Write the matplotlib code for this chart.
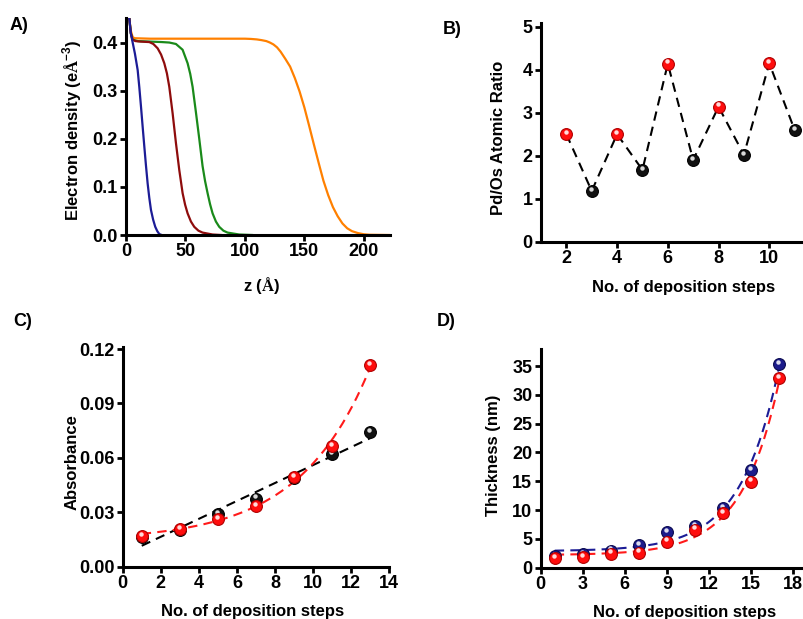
"""
Four-panel figure: electron density profiles, Pd/Os ratio,
absorbance and thickness against the number of deposition steps.
"""

import matplotlib
matplotlib.use("Agg")
import matplotlib.pyplot as plt
import matplotlib.transforms as mtransforms
import numpy as np

# %%
# Data
# ---------------------------

# A) electron density profiles, z in Angstrom
blue_z = [2.8, 4.0, 5.6, 7.5, 9.8, 11.2, 12.6, 14.0, 15.4, 16.8, 18.2, 19.6, 21.0, 22.8, 24.6, 26.3, 28.0, 30.0]
blue_rho = [0.450, 0.420, 0.400, 0.377, 0.343, 0.307, 0.267, 0.225, 0.184, 0.144, 0.107, 0.077, 0.052, 0.032,
            0.017, 0.008, 0.002, 0.000]

red_z = [2.8, 4.0, 5.5, 8.0, 12.0, 19.6, 23.0, 26.6, 29.5, 32.2, 34.4, 36.4, 39.2, 42.0, 44.8, 47.6, 49.7,
         51.8, 54.6, 57.4, 60.9, 64.4, 72.8, 79.8]
red_rho = [0.450, 0.420, 0.406, 0.403, 0.402, 0.401, 0.397, 0.388, 0.375, 0.357, 0.336, 0.308, 0.253, 0.191,
           0.135, 0.087, 0.063, 0.045, 0.028, 0.017, 0.009, 0.005, 0.001, 0.000]

green_z = [2.8, 4.0, 5.5, 10.0, 20.0, 30.0, 36.4, 42.0, 47.6, 51.8, 54.0, 56.0, 58.8, 61.6, 64.4, 66.5, 68.6,
           70.7, 72.8, 75.6, 78.4, 81.9, 85.4, 95.2, 106.0]
green_rho = [0.450, 0.420, 0.406, 0.403, 0.402, 0.401, 0.400, 0.397, 0.385, 0.357, 0.335, 0.308, 0.255, 0.200,
             0.143, 0.112, 0.087, 0.064, 0.045, 0.028, 0.017, 0.009, 0.005, 0.001, 0.000]

orange_z = [2.8, 4.0, 5.5, 7.0, 20.0, 60.0, 100.0, 105.0, 110.0, 114.0, 118.0, 121.0, 124.0, 127.0, 130.0,
            134.0, 138.0, 142.0, 146.0, 150.0, 154.0, 158.0, 162.0, 166.0, 170.0, 174.0, 178.0, 182.0, 186.0,
            190.0, 195.0, 200.0, 205.0, 221.0]
orange_rho = [0.450, 0.425, 0.412, 0.409, 0.408, 0.408, 0.408, 0.4075, 0.4065, 0.405, 0.403, 0.400, 0.396,
              0.390, 0.381, 0.366, 0.350, 0.326, 0.298, 0.265, 0.227, 0.188, 0.150, 0.113, 0.083, 0.058, 0.039,
              0.024, 0.014, 0.008, 0.004, 0.0015, 0.0005, 0.000]

# B) Pd/Os atomic ratio
ratio_steps = [2, 3, 4, 5, 6, 7, 8, 9, 10, 11]
ratio_values = [2.50, 1.18, 2.50, 1.67, 4.14, 1.90, 3.14, 2.02, 4.15, 2.60]

# C) absorbance
abs_steps = [1, 3, 5, 7, 9, 11, 13]
abs_black = [0.0165, 0.0203, 0.0289, 0.0375, 0.0490, 0.0620, 0.0743]
abs_red = [0.0169, 0.0208, 0.0263, 0.0335, 0.0496, 0.0667, 0.1110]

# D) thickness (nm)
thk_steps = [1, 3, 5, 7, 9, 11, 13, 15, 17]
thk_blue = [2.03, 2.38, 2.95, 3.94, 6.14, 7.24, 10.3, 16.95, 35.35]
thk_red = [1.62, 1.85, 2.43, 2.60, 4.51, 6.60, 9.44, 14.93, 32.86]

# %%
# Style
# -----

plt.rcParams["font.family"] = ["Liberation Sans", "DejaVu Sans"]
plt.rcParams["font.weight"] = "bold"
# serif for the Angstrom sign, bold sans for the exponent
plt.rcParams["mathtext.fontset"] = "custom"
plt.rcParams["mathtext.rm"] = "Liberation Serif:bold"
plt.rcParams["mathtext.bf"] = "Liberation Sans:bold"
plt.rcParams["mathtext.sf"] = "Liberation Sans:bold"

TICK_FS = 13
LABEL_FS = 12
DASH = (0, (4.5, 3))


def style_axes(ax):
    for side in ("top", "right"):
        ax.spines[side].set_visible(False)
    for side in ("left", "bottom"):
        ax.spines[side].set_linewidth(2.2)
    ax.tick_params(direction="out", length=4.5, width=2, labelsize=TICK_FS, pad=1.5)
    for lab in ax.get_xticklabels() + ax.get_yticklabels():
        lab.set_fontweight("bold")


def balls(ax, x, y, color, edge, zorder=3):
    """Markers that look a little like shaded spheres."""
    ax.plot(x, y, "o", ms=8.5, mfc=color, mec=edge, mew=0.8, zorder=zorder, clip_on=False)
    hl = mtransforms.offset_copy(ax.transData, fig=ax.figure, x=-0.6, y=1.6, units="points")
    ax.plot(x, y, "o", ms=3.2, mfc="white", mec="none", alpha=0.85, transform=hl,
            zorder=zorder + 0.1, clip_on=False)


def exp_fit(x, y, xs):
    """Least squares fit of y = c + a*exp(k*x), k by grid search."""
    x = np.asarray(x, float)
    y = np.asarray(y, float)
    best = None
    for k in np.linspace(0.01, 1.0, 991):
        m = np.column_stack([np.ones_like(x), np.exp(k * x)])
        coef = np.linalg.lstsq(m, y, rcond=None)[0]
        err = np.sum((m @ coef - y) ** 2)
        if best is None or err < best[0]:
            best = (err, k, coef)
    _, k, (c, a) = best
    return c + a * np.exp(k * xs)


fig = plt.figure(figsize=(8.04, 6.19), dpi=100)
W, H = 804.0, 619.0


def add_axes(left, top, right, bottom):
    """Axes box from pixel coordinates of the reference."""
    return fig.add_axes([left / W, 1 - bottom / H, (right - left) / W, (bottom - top) / H])


def place_labels(ax, box, ylab_x, ylab_frac, xlab_x, xlab_top):
    """Put the axis labels at pixel positions (label right edge / label top)."""
    left, top, right, bottom = box
    ax.yaxis.set_label_coords((ylab_x - left) / (right - left), ylab_frac)
    ax.xaxis.set_label_coords((xlab_x - left) / (right - left), -(xlab_top - bottom) / (bottom - top))


def panel_letter(text, x, y):
    fig.text(x / W, 1 - y / H, text, fontsize=13, fontweight="bold", ha="center", va="center")


# %%
# A) Electron density
# -------------------

box_a = (126, 18, 390, 235)
ax_a = add_axes(*box_a)
ax_a.plot(orange_z, orange_rho, color="#ff8000", lw=1.6)
ax_a.plot(green_z, green_rho, color="#1a8a1a", lw=1.6)
ax_a.plot(red_z, red_rho, color="#8e0c0c", lw=1.6)
ax_a.plot(blue_z, blue_rho, color="#1c1c96", lw=1.6)
ax_a.set_xlim(0, 222)
ax_a.set_ylim(0, 0.451)
ax_a.set_xticks([0, 50, 100, 150, 200])
ax_a.set_yticks([0.0, 0.1, 0.2, 0.3, 0.4])
ax_a.set_yticklabels(["0.0", "0.1", "0.2", "0.3", "0.4"])
style_axes(ax_a)
ax_a.set_ylabel(r"Electron density (e$\mathrm{Å}^{\mathbf{-3}}$)", fontsize=LABEL_FS, fontweight="bold")
ax_a.set_xlabel(r"z ($\mathrm{Å}$)", fontsize=LABEL_FS, fontweight="bold")
place_labels(ax_a, box_a, 84, 0.484, 262, 275)
panel_letter("A)", 19, 25)

# %%
# B) Pd/Os atomic ratio
# ---------------------

box_b = (541, 23.3, 804, 241.7)
ax_b = add_axes(*box_b)
ax_b.plot(ratio_steps, ratio_values, color="black", lw=1.5, ls=DASH, zorder=2)
even = [i for i, s in enumerate(ratio_steps) if s % 2 == 0]
odd = [i for i, s in enumerate(ratio_steps) if s % 2 == 1]
balls(ax_b, [ratio_steps[i] for i in even], [ratio_values[i] for i in even], "#ff0d0d", "#b00000")
balls(ax_b, [ratio_steps[i] for i in odd], [ratio_values[i] for i in odd], "#111111", "#000000")
ax_b.set_xlim(1, 11.37)
ax_b.set_ylim(0, 5.08)
ax_b.set_xticks([2, 4, 6, 8, 10])
ax_b.set_yticks([0, 1, 2, 3, 4, 5])
style_axes(ax_b)
ax_b.set_ylabel("Pd/Os Atomic Ratio", fontsize=LABEL_FS, fontweight="bold")
ax_b.set_xlabel("No. of deposition steps", fontsize=LABEL_FS, fontweight="bold")
place_labels(ax_b, box_b, 506, 0.477, 684, 280)
panel_letter("B)", 452, 30)

# %%
# C) Absorbance
# -------------

box_c = (122.7, 346.7, 389.3, 566.7)
ax_c = add_axes(*box_c)
xs_c = np.linspace(abs_steps[0], abs_steps[-1], 200)
lin = np.polyfit(abs_steps, abs_black, 1)
ax_c.plot(xs_c, np.polyval(lin, xs_c), color="black", lw=1.5, ls=DASH, zorder=2)
ax_c.plot(xs_c, exp_fit(abs_steps, abs_red, xs_c), color="#ff1a1a", lw=1.5, ls=DASH, zorder=2)
balls(ax_c, abs_steps, abs_black, "#111111", "#000000", zorder=3)
balls(ax_c, abs_steps, abs_red, "#ff0d0d", "#b00000", zorder=4)
ax_c.set_xlim(0, 14)
ax_c.set_ylim(0, 0.1213)
ax_c.set_xticks(range(0, 15, 2))
ax_c.set_yticks([0.0, 0.03, 0.06, 0.09, 0.12])
ax_c.set_yticklabels(["0.00", "0.03", "0.06", "0.09", "0.12"])
style_axes(ax_c)
ax_c.set_ylabel("Absorbance", fontsize=LABEL_FS, fontweight="bold")
ax_c.set_xlabel("No. of deposition steps", fontsize=LABEL_FS, fontweight="bold")
place_labels(ax_c, box_c, 80, 0.476, 253, 604)
panel_letter("C)", 23, 321)

# %%
# D) Thickness
# ------------

box_d = (540.7, 349.3, 804, 567.7)
ax_d = add_axes(*box_d)
xs_d = np.linspace(thk_steps[0], thk_steps[-1], 200)
ax_d.plot(xs_d, exp_fit(thk_steps, thk_blue, xs_d), color="#1c1c96", lw=1.5, ls=DASH, zorder=2)
ax_d.plot(xs_d, exp_fit(thk_steps, thk_red, xs_d), color="#ff1a1a", lw=1.5, ls=DASH, zorder=2)
balls(ax_d, thk_steps, thk_blue, "#1c1c8c", "#0a0a50", zorder=3)
balls(ax_d, thk_steps, thk_red, "#ff0d0d", "#b00000", zorder=4)
ax_d.set_xlim(0, 18.77)
ax_d.set_ylim(0, 37.9)
ax_d.set_xticks(range(0, 19, 3))
ax_d.set_yticks(range(0, 36, 5))
style_axes(ax_d)
ax_d.set_ylabel("Thickness (nm)", fontsize=LABEL_FS, fontweight="bold")
ax_d.set_xlabel("No. of deposition steps", fontsize=LABEL_FS, fontweight="bold")
place_labels(ax_d, box_d, 501, 0.516, 685, 605)
panel_letter("D)", 446, 322)

fig.savefig("out.png", dpi=100)
